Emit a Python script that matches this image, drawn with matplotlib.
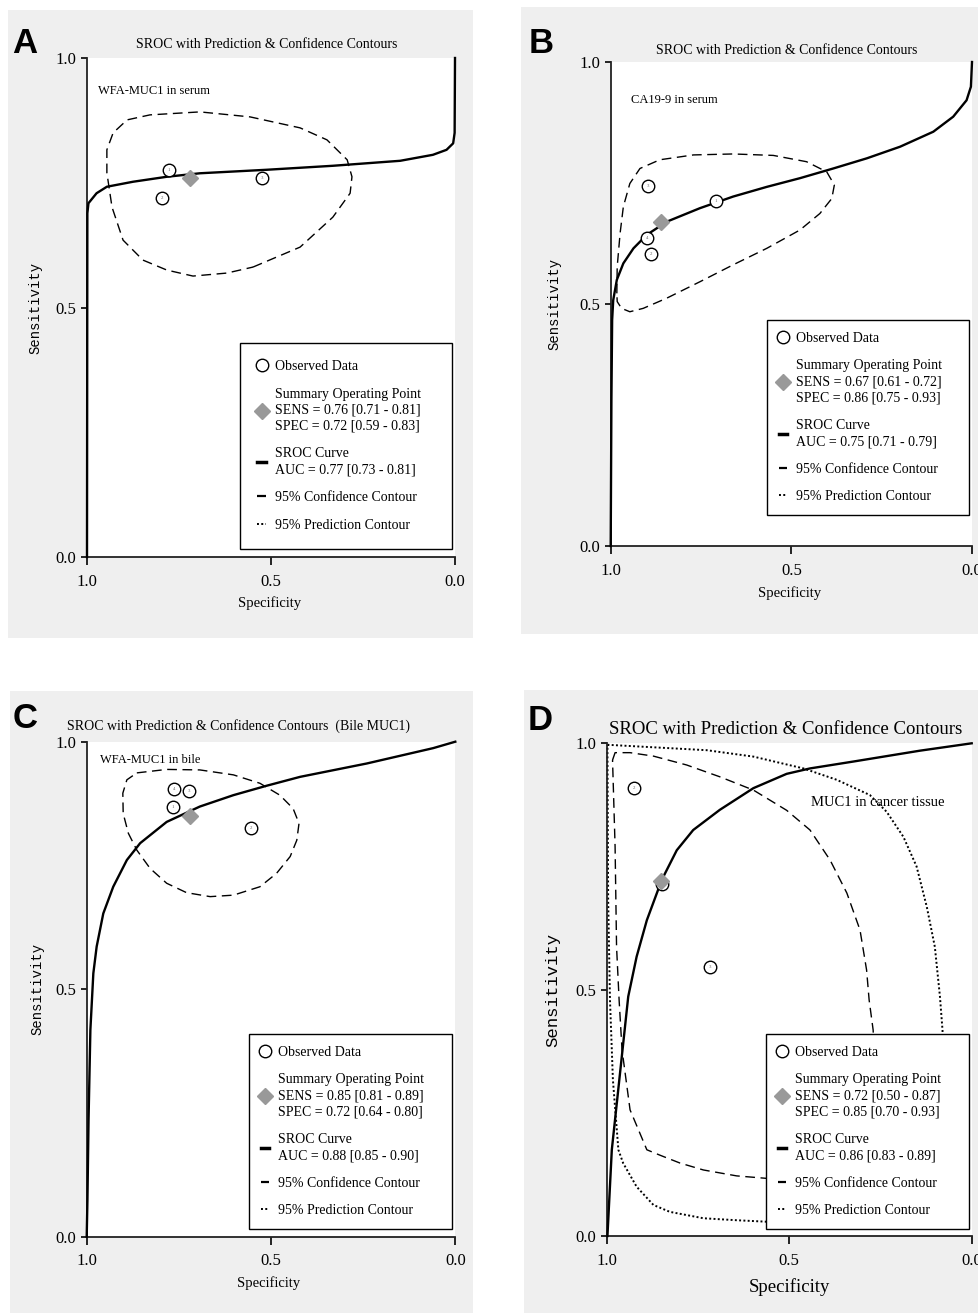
import matplotlib
matplotlib.use('Agg')
import matplotlib.pyplot as plt
from matplotlib.lines import Line2D
from matplotlib.patches import Rectangle

plt.rcParams['font.family'] = ['Liberation Serif', 'DejaVu Serif']

W, H = 979, 1313

# ---------------- values ----------------
# A: WFA-MUC1 in serum
a_ids = ['1', '2', '3']
a_obs_spec = [0.777, 0.796, 0.524]
a_obs_sens = [0.776, 0.719, 0.760]
a_sens = [0.76, 0.71, 0.81]      # estimate, lower, upper
a_spec = [0.72, 0.59, 0.83]
a_auc = [0.77, 0.73, 0.81]
a_sroc_spec = [1.0, 0.999, 0.996, 0.974, 0.946, 0.875, 0.783, 0.693, 0.512, 0.332,
               0.149, 0.060, 0.023, 0.005, 0.001, 0.0]
a_sroc_sens = [0.0, 0.689, 0.709, 0.729, 0.742, 0.752, 0.762, 0.769, 0.776, 0.784,
               0.794, 0.806, 0.816, 0.829, 0.850, 1.0]
a_conf_spec = [0.549, 0.421, 0.332, 0.285, 0.280, 0.293, 0.348, 0.421, 0.557, 0.693, 0.829,
               0.891, 0.929, 0.946, 0.946, 0.932, 0.902, 0.848, 0.783, 0.712, 0.620, 0.549]
a_conf_sens = [0.581, 0.621, 0.681, 0.729, 0.762, 0.796, 0.836, 0.860, 0.882, 0.892, 0.886,
               0.876, 0.850, 0.816, 0.770, 0.701, 0.635, 0.595, 0.575, 0.563, 0.569, 0.581]

# B: CA19-9 in serum
b_ids = ['3', '1', '4', '2']
b_obs_spec = [0.896, 0.709, 0.900, 0.889]
b_obs_sens = [0.744, 0.713, 0.637, 0.603]
b_sens = [0.67, 0.61, 0.72]
b_spec = [0.86, 0.75, 0.93]
b_auc = [0.75, 0.71, 0.79]
b_sroc_spec = [1.0, 0.998, 0.996, 0.993, 0.983, 0.965, 0.937, 0.900, 0.845, 0.753, 0.661,
               0.568, 0.476, 0.384, 0.291, 0.199, 0.107, 0.052, 0.015, 0.003, 0.0]
b_sroc_sens = [0.0, 0.302, 0.467, 0.508, 0.550, 0.584, 0.615, 0.643, 0.670, 0.698, 0.722,
               0.742, 0.760, 0.780, 0.801, 0.825, 0.856, 0.887, 0.921, 0.949, 1.0]
b_conf_spec = [0.983, 0.982, 0.974, 0.965, 0.947, 0.919, 0.864, 0.771, 0.661, 0.550, 0.458,
               0.402, 0.381, 0.388, 0.421, 0.476, 0.568, 0.661, 0.753, 0.845, 0.910, 0.947,
               0.970, 0.982, 0.983]
b_conf_sens = [0.522, 0.577, 0.646, 0.701, 0.749, 0.780, 0.798, 0.808, 0.810, 0.807, 0.794,
               0.773, 0.746, 0.718, 0.687, 0.653, 0.615, 0.581, 0.546, 0.512, 0.491, 0.484,
               0.491, 0.505, 0.522]

# C: WFA-MUC1 in bile
c_ids = ['4', '3', '1', '2']
c_obs_spec = [0.764, 0.723, 0.766, 0.555]
c_obs_sens = [0.905, 0.901, 0.868, 0.826]
c_sens = [0.85, 0.81, 0.89]
c_spec = [0.72, 0.64, 0.80]
c_auc = [0.88, 0.85, 0.90]
c_sroc_spec = [0.0, 0.060, 0.240, 0.421, 0.512, 0.602, 0.693, 0.783, 0.855, 0.891, 0.928,
               0.955, 0.973, 0.982, 0.990, 0.995, 0.998, 1.0]
c_sroc_sens = [1.0, 0.987, 0.956, 0.929, 0.911, 0.892, 0.869, 0.838, 0.795, 0.761, 0.707,
               0.653, 0.586, 0.532, 0.418, 0.236, 0.074, 0.0]
c_conf_spec = [0.864, 0.783, 0.693, 0.602, 0.530, 0.476, 0.440, 0.424, 0.430, 0.448, 0.485,
               0.530, 0.602, 0.665, 0.729, 0.783, 0.828, 0.864, 0.887, 0.901, 0.902, 0.891, 0.864]
c_conf_sens = [0.937, 0.944, 0.943, 0.933, 0.916, 0.892, 0.865, 0.835, 0.801, 0.768, 0.734,
               0.707, 0.690, 0.687, 0.695, 0.714, 0.744, 0.781, 0.815, 0.855, 0.896, 0.923, 0.937]

# D: MUC1 in cancer tissue
d_ids = ['2', '1', '3']
d_obs_spec = [0.924, 0.849, 0.718]
d_obs_sens = [0.909, 0.714, 0.545]
d_sens = [0.72, 0.50, 0.87]
d_spec = [0.85, 0.70, 0.93]
d_auc = [0.86, 0.83, 0.89]
d_sroc_spec = [0.0, 0.142, 0.324, 0.443, 0.507, 0.598, 0.690, 0.763, 0.808, 0.849, 0.890,
               0.918, 0.941, 0.986, 0.998]
d_sroc_sens = [1.0, 0.985, 0.963, 0.949, 0.938, 0.909, 0.865, 0.824, 0.783, 0.723, 0.641,
               0.567, 0.486, 0.175, 0.0]
d_conf_spec = [0.984, 0.977, 0.936, 0.872, 0.781, 0.690, 0.598, 0.507, 0.443, 0.388, 0.342,
               0.306, 0.288, 0.281, 0.270, 0.265, 0.279, 0.333, 0.470, 0.562, 0.644, 0.735,
               0.799, 0.854, 0.890, 0.936, 0.958, 0.966, 0.973, 0.977, 0.984]
d_conf_sens = [0.966, 0.981, 0.981, 0.974, 0.956, 0.932, 0.905, 0.864, 0.824, 0.763, 0.696,
               0.621, 0.540, 0.479, 0.418, 0.317, 0.215, 0.144, 0.118, 0.117, 0.122, 0.134,
               0.148, 0.164, 0.175, 0.256, 0.378, 0.479, 0.587, 0.790, 0.966]
d_pred_spec = [0.998, 0.726, 0.598, 0.461, 0.370, 0.279, 0.233, 0.187, 0.151, 0.123, 0.101,
               0.087, 0.080, 0.073, 0.101, 0.196, 0.388, 0.562, 0.644, 0.735, 0.827, 0.872,
               0.918, 0.955, 0.968, 0.983, 0.991, 0.996, 0.998]
d_pred_sens = [0.997, 0.986, 0.973, 0.949, 0.926, 0.895, 0.861, 0.810, 0.750, 0.668, 0.587,
               0.486, 0.418, 0.276, 0.134, 0.063, 0.032, 0.029, 0.032, 0.036, 0.049, 0.063,
               0.100, 0.148, 0.175, 0.317, 0.479, 0.682, 0.997]

TITLE = 'SROC with Prediction & Confidence Contours'
GREY = '#efefef'

fig = plt.figure(figsize=(W / 100, H / 100), dpi=100, facecolor='white')


def fx(x):
    return x / W


def fy(y):
    return 1 - y / H


def ftext(x, y, s, **kw):
    return fig.text(fx(x), fy(y), s, **kw)


def grey_box(x0, y0, x1, y1):
    fig.add_artist(Rectangle((fx(x0), fy(y1)), (x1 - x0) / W, (y1 - y0) / H,
                             transform=fig.transFigure, facecolor=GREY,
                             edgecolor='none', zorder=-5))


def make_axes(x0, y0, x1, y1):
    ax = fig.add_axes([fx(x0), fy(y1), (x1 - x0) / W, (y1 - y0) / H])
    ax.set_xlim(1, 0)
    ax.set_ylim(0, 1)
    ax.set_xticks([1.0, 0.5, 0.0])
    ax.set_xticklabels(['1.0', '0.5', '0.0'])
    ax.set_yticks([0.0, 0.5, 1.0])
    ax.set_yticklabels(['0.0', '0.5', '1.0'])
    for s in ['top', 'right']:
        ax.spines[s].set_visible(False)
    for s in ['left', 'bottom']:
        ax.spines[s].set_linewidth(1.3)
        ax.spines[s].set_color('#222222')
    ax.tick_params(axis='y', direction='out', length=4.5, width=1.2, pad=3, labelsize=12)
    ax.tick_params(axis='x', direction='out', length=6, width=1.2, pad=6, labelsize=12)
    return ax


def draw_curves(ax, sroc_spec, sroc_sens, conf_spec, conf_sens, pred_spec=None, pred_sens=None):
    ax.plot(conf_spec, conf_sens, color='black', lw=1.0, ls=(0, (7, 4)), zorder=2, clip_on=False)
    if pred_spec is not None:
        ax.plot(pred_spec, pred_sens, color='black', lw=1.4, ls=(0, (1, 1.2)), zorder=2,
                clip_on=False)
    ax.plot(sroc_spec, sroc_sens, color='black', lw=1.7, zorder=3, clip_on=False,
            solid_joinstyle='round')


def draw_points(ax, ids, obs_spec, obs_sens, spec, sens):
    ax.plot(obs_spec, obs_sens, ls='none', marker='o', ms=9, mfc='white', mec='black',
            mew=1.0, zorder=4)
    for i, sx, sy in zip(ids, obs_spec, obs_sens):
        ax.text(sx, sy, i, fontsize=3.5, color='#666666', ha='center', va='center', zorder=5)
    ax.plot([spec[0]], [sens[0]], ls='none', marker='D', ms=8, color='#999999', zorder=6)


def draw_legend(ax, sens, spec, auc, left, right, bottom, pad=0.85):
    handles = [
        Line2D([], [], ls='none', marker='o', ms=9, mfc='white', mec='black', mew=1.0),
        Line2D([], [], ls='none', marker='D', ms=8, color='#999999'),
        Line2D([], [], color='black', lw=2.5),
        Line2D([], [], color='black', lw=1.6, ls=(0, (7, 4))),
        Line2D([], [], color='black', lw=1.4, ls=(0, (1, 1.2))),
    ]
    labels = [
        'Observed Data',
        'Summary Operating Point\nSENS = {:.2f} [{:.2f} - {:.2f}]\nSPEC = {:.2f} [{:.2f} - {:.2f}]'
        .format(*sens, *spec),
        'SROC Curve\nAUC = {:.2f} [{:.2f} - {:.2f}]'.format(*auc),
        '95% Confidence Contour',
        '95% Prediction Contour',
    ]
    leg = ax.legend(handles, labels, loc='lower left', mode='expand',
                    bbox_to_anchor=(fx(left), fy(bottom), (right - left) / W, 0),
                    bbox_transform=fig.transFigure, borderaxespad=0, fontsize=10,
                    handlelength=0.6, handletextpad=0.65, borderpad=pad, labelspacing=1.05,
                    fancybox=False, framealpha=1, edgecolor='black')
    for t in leg.get_texts():
        t.set_linespacing(1.3)
    leg.get_frame().set_linewidth(1.0)
    leg.set_zorder(10)


def labels(letter, lxy, title, txy, tfs, inner, ixy, ifs, sxy, sfs, vxy, vfs, title_ha='center'):
    ftext(lxy[0], lxy[1], letter, family='Liberation Sans', weight='bold', fontsize=25,
          ha='left', va='baseline')
    ftext(txy[0], txy[1], title, fontsize=tfs, ha=title_ha, va='center')
    ftext(ixy[0], ixy[1], inner, fontsize=ifs, ha='left', va='center')
    ftext(sxy[0], sxy[1], 'Specificity', fontsize=sfs, ha='center', va='center')
    ftext(vxy[0], vxy[1], 'Sensitivity', family='Liberation Mono', fontsize=vfs,
          rotation=90, ha='center', va='center')


# ---------------- panel A ----------------
grey_box(8, 10, 473, 638)
ax = make_axes(87, 58, 455, 557)
draw_curves(ax, a_sroc_spec, a_sroc_sens, a_conf_spec, a_conf_sens)
draw_points(ax, a_ids, a_obs_spec, a_obs_sens, a_spec, a_sens)
draw_legend(ax, a_sens, a_spec, a_auc, 240, 452, 549, pad=1.25)
labels('A', (12, 53), TITLE, (267, 45), 10, 'WFA-MUC1 in serum', (98, 91), 9,
       (270, 603), 10.5, (35, 308), 10)

# ---------------- panel B ----------------
grey_box(521, 7, 979, 634)
ax = make_axes(610.7, 62, 972, 546)
draw_curves(ax, b_sroc_spec, b_sroc_sens, b_conf_spec, b_conf_sens)
draw_points(ax, b_ids, b_obs_spec, b_obs_sens, b_spec, b_sens)
draw_legend(ax, b_sens, b_spec, b_auc, 767, 969, 515)
labels('B', (529, 53), TITLE, (787, 50), 10, 'CA19-9 in serum', (631, 100), 9,
       (790, 593), 10.5, (554, 304), 10)

# ---------------- panel C ----------------
grey_box(10, 691, 473, 1313)
ax = make_axes(86.7, 741.7, 455.3, 1236.7)
draw_curves(ax, c_sroc_spec, c_sroc_sens, c_conf_spec, c_conf_sens)
draw_points(ax, c_ids, c_obs_spec, c_obs_sens, c_spec, c_sens)
draw_legend(ax, c_sens, c_spec, c_auc, 249, 452, 1229)
labels('C', (13, 728), TITLE + '  (Bile MUC1)', (67, 726), 10, 'WFA-MUC1 in bile', (100, 760), 9,
       (269, 1283), 10.5, (37, 989), 10, title_ha='left')

# ---------------- panel D ----------------
grey_box(524, 690, 979, 1313)
ax = make_axes(606.7, 743.3, 971.7, 1236)
draw_curves(ax, d_sroc_spec, d_sroc_sens, d_conf_spec, d_conf_sens, d_pred_spec, d_pred_sens)
draw_points(ax, d_ids, d_obs_spec, d_obs_sens, d_spec, d_sens)
draw_legend(ax, d_sens, d_spec, d_auc, 766, 969, 1229)
labels('D', (528, 730), TITLE, (786, 729), 13.5, 'MUC1 in cancer tissue', (811, 803), 10.5,
       (789, 1287), 13.5, (553, 990), 12.5)

fig.savefig('out.png', dpi=100, facecolor='white')
